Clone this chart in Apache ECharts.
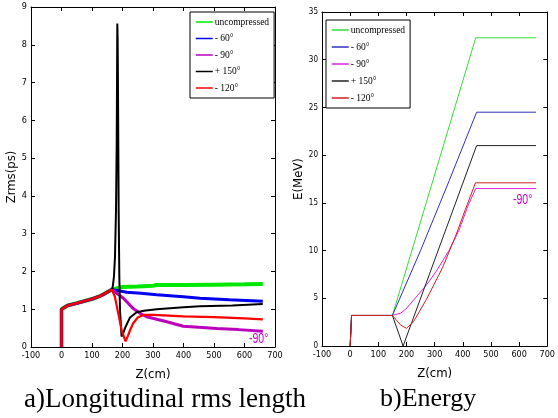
<!DOCTYPE html>
<html><head><meta charset="utf-8">
<script src="https://cdn.jsdelivr.net/npm/echarts@6/dist/echarts.min.js"></script>
<style>html,body{margin:0;padding:0;background:#fff}#c{width:558px;height:418px}</style>
</head><body><div id="c"></div>
<script>
// ---------- data: (a) Longitudinal rms length, Zrms (ps) vs Z (cm) ----------
const startZ = [0, 0, 5, 20, 50, 100, 130, 165];
const startV = [0, 1.0, 1.05, 1.1, 1.16, 1.27, 1.36, 1.52];

const rmsUncZ = [170, 200, 250, 300, 312, 400, 500, 600, 660];
const rmsUncV = [1.57, 1.59, 1.6, 1.62, 1.64, 1.64, 1.65, 1.66, 1.67];
const rms60Z = [170, 214, 260, 312, 400, 454, 550, 660];
const rms60V = [1.5, 1.45, 1.42, 1.38, 1.33, 1.29, 1.25, 1.21];
const rms90Z = [170, 203, 235, 260, 279, 345, 399, 450, 509, 580, 660];
const rms90V = [1.5, 1.29, 1.02, 0.88, 0.8, 0.67, 0.55, 0.52, 0.49, 0.46, 0.42];
const rms150Z = [168, 172, 175.4, 178.7, 181, 183, 184, 185, 187.4, 189.6, 191.8, 197, 202, 208, 224.6, 246.5, 270, 312, 400, 454, 560, 660];
const rms150V = [1.6, 1.86, 2.39, 3.62, 5.4, 8.56, 8.2, 7.15, 3.62, 1.86, 0.98, 0.28, 0.35, 0.5, 0.78, 0.92, 0.96, 1.0, 1.05, 1.08, 1.1, 1.14];
const rms120Z = [175, 186, 197, 210, 218, 225, 235, 250, 268, 300, 400, 500, 600, 660];
const rms120V = [1.33, 0.89, 0.45, 0.15, 0.3, 0.45, 0.63, 0.78, 0.85, 0.85, 0.81, 0.79, 0.76, 0.73];

// ---------- data: (b) Energy, E (MeV) vs Z (cm) ----------
const eStartZ = [0, 5, 150];
const eStartV = [0, 3.2, 3.2];
const eUncZ = [446, 660];
const eUncV = [32.3, 32.3];
const e60Z = [250, 350, 449, 660];
const e60V = [10.0, 17.2, 24.5, 24.5];
const e90Z = [180, 202, 225, 271, 305, 351, 386, 420, 446, 660];
const e90V = [3.45, 4.0, 4.8, 6.4, 7.8, 10.0, 12.1, 14.8, 16.5, 16.5];
const e150Z = [188, 449, 660];
const e150V = [0, 21.0, 21.0];
const e120Z = [179, 200, 225, 271, 328, 374, 409, 445, 660];
const e120V = [2.2, 1.85, 2.55, 4.9, 8.2, 11.5, 14.3, 17.1, 17.1];

// ---------- labels ----------
const seriesNames = ['uncompressed', '- 60\u00b0', '- 90\u00b0', '+ 150\u00b0', '- 120\u00b0'];
const xTickMin = -100, xTickMax = 700, xTickStep = 100;
const rmsMin = 0, rmsMax = 9, rmsStep = 1;
const eMin = 0, eMax = 35, eStep = 5;

function zip(zs, vs) { return zs.map((z, i) => [z, vs[i]]); }
function withStart(sz, sv, zs, vs) { return zip(sz.concat(zs), sv.concat(vs)); }

const leftColors = ['#00e800', '#0000f0', '#bb00bb', '#000000', '#ff0000'];
const leftWidths = [4, 3, 3, 2, 2.2];
const rightColors = ['#33dd33', '#3030c0', '#e020e0', '#222222', '#d02020'];

const leftData = [
  withStart(startZ, startV, rmsUncZ, rmsUncV),
  withStart(startZ, startV, rms60Z, rms60V),
  withStart(startZ, startV, rms90Z, rms90V),
  withStart(startZ, startV, rms150Z, rms150V),
  withStart(startZ, startV, rms120Z, rms120V)
];
const rightData = [
  withStart(eStartZ, eStartV, eUncZ, eUncV),
  withStart(eStartZ, eStartV, e60Z, e60V),
  withStart(eStartZ, eStartV, e90Z, e90V),
  withStart(eStartZ, eStartV, e150Z, e150V),
  withStart(eStartZ, eStartV, e120Z, e120V)
];

const tickFont = "'DejaVu Sans Condensed','Liberation Sans Narrow','Liberation Sans',sans-serif";
const black = '#000';

function xAx(grid, pos, show, size) {
  return {
    type: 'value', gridIndex: grid, position: pos, min: xTickMin, max: xTickMax, interval: xTickStep,
    axisLine: { show: true, onZero: false, lineStyle: { color: black, width: 1 } },
    axisTick: { show: true, inside: true, length: 4, lineStyle: { color: black } },
    axisLabel: { show: show, margin: 4, color: black, fontSize: size, fontFamily: tickFont },
    splitLine: { show: false },
    name: show ? 'Z(cm)' : '', nameLocation: 'middle', nameGap: 21,
    nameTextStyle: { color: black, fontSize: 13, fontFamily: tickFont }
  };
}
function yAx(grid, pos, show, min, max, step, size, name) {
  return {
    type: 'value', gridIndex: grid, position: pos, min: min, max: max, interval: step,
    axisLine: { show: true, onZero: false, lineStyle: { color: black, width: 1 } },
    axisTick: { show: true, inside: true, length: 4, lineStyle: { color: black } },
    axisLabel: { show: show, margin: 4, color: black, fontSize: size, fontFamily: tickFont },
    splitLine: { show: false },
    name: show ? name : '', nameLocation: 'middle', nameGap: 12,
    nameTextStyle: { color: black, fontSize: 13, fontFamily: tickFont }
  };
}

const series = [];
leftData.forEach((d, i) => series.push({
  name: 'a:' + seriesNames[i], type: 'line', xAxisIndex: 0, yAxisIndex: 0, data: d,
  symbol: 'none', smooth: false, animation: false,
  lineStyle: { color: leftColors[i], width: leftWidths[i] }, itemStyle: { color: leftColors[i] }
}));
rightData.forEach((d, i) => series.push({
  name: 'b:' + seriesNames[i], type: 'line', xAxisIndex: 2, yAxisIndex: 2, data: d,
  symbol: 'none', smooth: false, animation: false,
  lineStyle: { color: rightColors[i], width: 1 }, itemStyle: { color: rightColors[i] }
}));

const legendCommon = {
  orient: 'vertical', itemWidth: 17, itemHeight: 10, padding: 5,
  backgroundColor: '#fff', borderColor: black, borderWidth: 1, borderRadius: 0,
  itemStyle: { opacity: 0 }, lineStyle: { width: 1.5 },
  textStyle: { color: black, fontSize: 9.5, fontFamily: "'Liberation Serif',serif", padding: [0, 0, 0, -3] },
  formatter: n => n.slice(2), selectedMode: false
};

const narrow = "15px 'Liberation Sans','DejaVu Sans',sans-serif";
const chart = echarts.init(document.getElementById('c'), null, { renderer: 'canvas' });
chart.setOption({
  animation: false,
  backgroundColor: '#fff',
  grid: [
    { left: 31, top: 7, width: 244, height: 340, show: false },
    { left: 322, top: 12, width: 233, height: 334, show: false }
  ],
  xAxis: [xAx(0, 'bottom', true, 9), xAx(0, 'top', false, 9), xAx(1, 'bottom', true, 9), xAx(1, 'top', false, 9)],
  yAxis: [
    yAx(0, 'left', true, rmsMin, rmsMax, rmsStep, 9, 'Zrms(ps)'),
    yAx(0, 'right', false, rmsMin, rmsMax, rmsStep, 9, ''),
    yAx(1, 'left', true, eMin, eMax, eStep, 8, 'E(MeV)'),
    yAx(1, 'right', false, eMin, eMax, eStep, 8, '')
  ],
  legend: [
    Object.assign({}, legendCommon, { left: 190, top: 12, itemGap: 6.5, data: seriesNames.map(n => 'a:' + n) }),
    Object.assign({}, legendCommon, { left: 326, top: 20, itemGap: 7, data: seriesNames.map(n => 'b:' + n) })
  ],
  series: series,
  graphic: [
    { type: 'text', x: 249, y: 331, scaleX: 0.7, style: { text: '-90\u00b0', fill: '#cc00cc', font: narrow } },
    { type: 'text', x: 513, y: 192, scaleX: 0.7, style: { text: '-90\u00b0', fill: '#cc00cc', font: narrow } },
    { type: 'text', left: 24, top: 386, style: { text: 'a)Longitudinal rms length', fill: '#000', font: "27px 'Liberation Serif',serif" } },
    { type: 'text', left: 380, top: 386, style: { text: 'b)Energy', fill: '#000', font: "26px 'Liberation Serif',serif" } }
  ]
});
</script></body></html>
